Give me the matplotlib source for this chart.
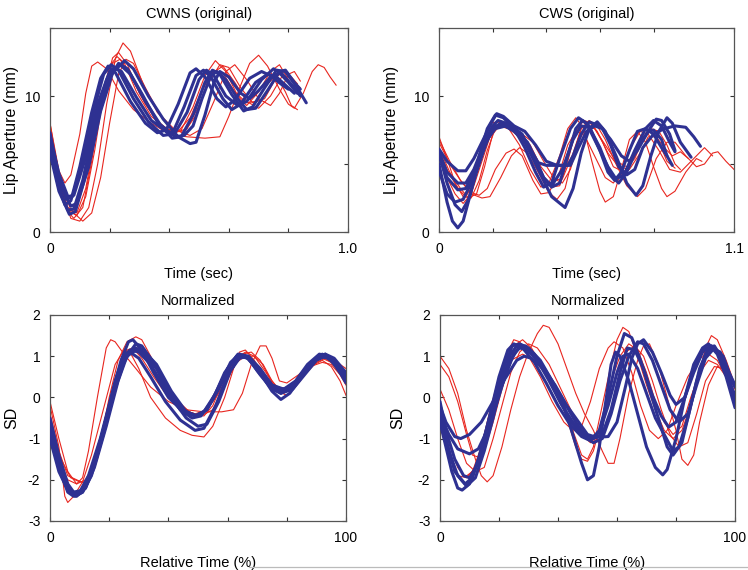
import matplotlib
matplotlib.use("Agg")
import matplotlib.pyplot as plt
import numpy as np
from matplotlib.lines import Line2D

plt.rcParams["font.family"] = ["Liberation Sans", "DejaVu Sans"]

RED = "#e8261f"
BLUE = "#2e3192"

# ---- CWNS original: (time s, lip aperture mm) ----
cwns_red = [
    [(0, 8.0), (0.03, 4.5), (0.05, 3.6), (0.07, 4.2), (0.10, 7.2), (0.12, 10.2), (0.14, 12.2), (0.16, 12.5),
     (0.19, 12.0), (0.23, 10.4), (0.28, 9.0), (0.34, 8.0), (0.40, 7.2), (0.46, 7.0), (0.52, 6.9), (0.57, 7.0),
     (0.60, 8.5), (0.64, 10.8), (0.67, 12.4), (0.70, 13.0), (0.73, 12.2), (0.77, 10.5), (0.80, 9.4),
     (0.82, 9.1), (0.85, 10.2), (0.88, 11.8), (0.90, 12.3), (0.92, 12.1), (0.94, 11.4), (0.96, 10.8)],
    [(0, 7.8), (0.03, 3.8), (0.06, 1.6), (0.09, 1.2), (0.12, 2.6), (0.15, 6.0), (0.18, 10.2), (0.21, 12.8),
     (0.23, 13.2), (0.26, 12.3), (0.30, 10.2), (0.35, 8.4), (0.40, 7.4), (0.44, 7.5), (0.48, 9.2), (0.52, 11.5),
     (0.555, 12.6), (0.59, 11.8), (0.63, 10.0), (0.66, 9.3), (0.70, 10.3), (0.74, 11.8), (0.77, 12.3),
     (0.80, 11.2), (0.82, 10.4)],
    [(0, 7.6), (0.03, 3.5), (0.07, 1.0), (0.10, 0.8), (0.13, 1.8), (0.16, 5.0), (0.19, 9.4), (0.22, 12.8),
     (0.245, 13.9), (0.27, 13.3), (0.31, 11.0), (0.36, 8.8), (0.41, 7.6), (0.45, 7.3), (0.49, 8.6), (0.53, 10.9),
     (0.57, 12.3), (0.60, 12.1), (0.64, 10.6), (0.68, 9.5), (0.72, 9.8), (0.76, 11.4), (0.79, 11.9),
     (0.82, 11.0), (0.84, 10.6)],
    [(0, 7.4), (0.03, 3.9), (0.06, 1.8), (0.09, 1.4), (0.12, 3.2), (0.15, 6.8), (0.18, 10.6), (0.21, 12.4),
     (0.235, 12.7), (0.27, 11.5), (0.32, 9.4), (0.37, 7.9), (0.42, 7.3), (0.46, 7.6), (0.50, 9.3), (0.54, 11.6),
     (0.58, 12.2), (0.62, 11.0), (0.66, 9.6), (0.70, 9.1), (0.74, 10.0), (0.78, 11.5), (0.81, 11.4),
     (0.83, 10.9)],
    [(0, 8.0), (0.03, 4.2), (0.07, 1.6), (0.11, 0.8), (0.14, 1.4), (0.17, 4.0), (0.20, 8.0), (0.23, 11.6),
     (0.255, 12.7), (0.28, 12.4), (0.32, 10.6), (0.37, 8.6), (0.42, 7.5), (0.47, 7.1), (0.51, 7.6), (0.55, 9.6),
     (0.59, 11.8), (0.62, 12.3), (0.66, 11.2), (0.70, 9.8), (0.74, 9.3), (0.77, 10.2), (0.80, 11.6),
     (0.82, 11.8), (0.84, 11.1)],
    [(0, 7.2), (0.03, 3.6), (0.06, 1.5), (0.08, 1.0), (0.11, 1.8), (0.14, 5.2), (0.17, 9.5), (0.20, 12.2),
     (0.225, 12.9), (0.25, 12.4), (0.29, 10.3), (0.34, 8.5), (0.39, 7.6), (0.43, 7.4), (0.47, 8.4), (0.51, 10.4),
     (0.55, 11.9), (0.58, 11.7), (0.62, 10.3), (0.66, 9.5), (0.69, 9.6), (0.73, 10.9), (0.76, 11.5),
     (0.79, 10.3), (0.81, 9.3), (0.83, 9.0)],
]
cwns_blue = [
    [(0, 6.9), (0.03, 3.4), (0.05, 2.0), (0.07, 2.3), (0.10, 4.8), (0.14, 8.8), (0.17, 11.3), (0.195, 12.2),
     (0.22, 11.7), (0.27, 9.6), (0.32, 8.0), (0.36, 7.3), (0.39, 7.5), (0.43, 9.4), (0.47, 11.7), (0.49, 12.0),
     (0.52, 11.4), (0.56, 9.8), (0.59, 9.2), (0.62, 9.7), (0.67, 11.3), (0.71, 11.8), (0.74, 11.5),
     (0.78, 10.8), (0.80, 10.5)],
    [(0, 7.3), (0.03, 4.0), (0.055, 2.4), (0.075, 2.6), (0.11, 5.2), (0.15, 9.2), (0.18, 11.6), (0.205, 12.3),
     (0.23, 11.9), (0.28, 9.8), (0.33, 8.1), (0.38, 7.1), (0.41, 7.2), (0.45, 9.2), (0.49, 11.5), (0.515, 11.9),
     (0.54, 11.4), (0.58, 9.8), (0.61, 9.0), (0.64, 9.4), (0.69, 11.0), (0.73, 11.6), (0.76, 11.4),
     (0.80, 10.6), (0.82, 10.2)],
    [(0, 6.2), (0.03, 3.2), (0.06, 1.6), (0.08, 1.7), (0.11, 3.8), (0.15, 7.9), (0.19, 11.2), (0.215, 12.1),
     (0.24, 11.8), (0.29, 9.9), (0.34, 8.2), (0.39, 7.4), (0.42, 7.3), (0.46, 8.8), (0.50, 11.2), (0.525, 11.9),
     (0.55, 11.5), (0.59, 10.0), (0.63, 9.3), (0.66, 9.6), (0.71, 11.2), (0.75, 12.0), (0.78, 11.6),
     (0.82, 10.6), (0.84, 10.0)],
    [(0, 5.8), (0.03, 3.0), (0.065, 1.3), (0.085, 1.5), (0.12, 4.2), (0.16, 8.3), (0.20, 11.3), (0.23, 12.4),
     (0.26, 12.0), (0.31, 10.1), (0.36, 8.1), (0.41, 6.9), (0.44, 7.0), (0.48, 8.6), (0.52, 11.0), (0.545, 11.9),
     (0.57, 11.6), (0.61, 10.1), (0.65, 8.9), (0.68, 9.2), (0.72, 10.6), (0.76, 11.9), (0.79, 11.8),
     (0.83, 10.6), (0.86, 9.5)],
    [(0, 6.5), (0.03, 3.7), (0.07, 1.9), (0.09, 2.1), (0.13, 4.8), (0.17, 8.9), (0.21, 11.7), (0.25, 12.6),
     (0.28, 12.0), (0.33, 10.0), (0.38, 8.3), (0.43, 7.0), (0.47, 6.5), (0.49, 6.6), (0.52, 8.6), (0.55, 11.0),
     (0.57, 11.8), (0.60, 11.4), (0.64, 10.2), (0.67, 9.8), (0.70, 10.4), (0.74, 11.4), (0.77, 11.7),
     (0.80, 11.0), (0.83, 10.2)],
    [(0, 7.0), (0.03, 4.3), (0.06, 2.6), (0.08, 2.7), (0.12, 5.5), (0.16, 9.4), (0.20, 11.8), (0.235, 12.3),
     (0.27, 11.6), (0.32, 9.6), (0.37, 7.9), (0.42, 7.0), (0.45, 7.1), (0.48, 7.8), (0.51, 9.8), (0.54, 11.5),
     (0.56, 11.8), (0.59, 11.2), (0.63, 9.8), (0.66, 9.0), (0.69, 9.1), (0.73, 10.4), (0.77, 11.8),
     (0.79, 11.9), (0.82, 11.0), (0.84, 10.5)],
]

# ---- CWS original ----
cws_red = [
    [(0, 6.8), (0.04, 5.2), (0.08, 3.8), (0.12, 2.8), (0.16, 2.5), (0.19, 2.6), (0.23, 4.0), (0.27, 5.6),
     (0.30, 6.2), (0.33, 5.8), (0.37, 4.4), (0.41, 2.9), (0.44, 2.4), (0.47, 3.2), (0.50, 5.6), (0.53, 7.6),
     (0.56, 8.2), (0.59, 7.8), (0.62, 6.8), (0.66, 5.0), (0.70, 3.4), (0.74, 2.6), (0.77, 3.2), (0.81, 5.4),
     (0.85, 6.6), (0.88, 6.6), (0.92, 5.6), (0.96, 4.8), (0.99, 5.0), (1.02, 5.8), (1.04, 5.9), (1.07, 5.2),
     (1.10, 4.6)],
    [(0, 6.2), (0.04, 4.4), (0.08, 3.2), (0.11, 2.5), (0.14, 2.8), (0.17, 4.8), (0.20, 7.2), (0.23, 7.9),
     (0.26, 7.6), (0.30, 6.4), (0.34, 4.6), (0.38, 3.3), (0.41, 3.6), (0.45, 5.6), (0.48, 7.6), (0.51, 8.4),
     (0.54, 7.6), (0.57, 5.2), (0.60, 3.0), (0.62, 2.2), (0.65, 2.6), (0.68, 4.6), (0.71, 6.8), (0.74, 7.4),
     (0.77, 6.6), (0.80, 4.8), (0.83, 3.2), (0.85, 2.6), (0.88, 3.0), (0.92, 4.4), (0.96, 5.4), (0.98, 5.2)],
    [(0, 6.0), (0.03, 4.6), (0.07, 3.2), (0.10, 2.6), (0.13, 3.6), (0.16, 6.2), (0.19, 8.0), (0.22, 8.1),
     (0.26, 7.6), (0.30, 7.0), (0.34, 6.0), (0.38, 4.2), (0.42, 3.3), (0.45, 3.4), (0.48, 5.2), (0.51, 7.4),
     (0.54, 8.2), (0.57, 8.0), (0.61, 6.6), (0.65, 4.8), (0.69, 4.4), (0.73, 5.6), (0.76, 7.0), (0.79, 7.4),
     (0.82, 6.6), (0.85, 5.2), (0.88, 4.7)],
    [(0, 5.6), (0.03, 4.0), (0.06, 2.8), (0.09, 2.1), (0.12, 2.8), (0.16, 5.2), (0.19, 7.0), (0.22, 7.8),
     (0.26, 7.6), (0.30, 7.2), (0.34, 6.4), (0.38, 4.8), (0.42, 3.8), (0.46, 3.9), (0.50, 5.8), (0.53, 7.6),
     (0.56, 8.1), (0.59, 7.4), (0.63, 5.8), (0.67, 4.8), (0.71, 4.6), (0.75, 5.8), (0.78, 7.0), (0.81, 7.0),
     (0.84, 6.2), (0.87, 5.6), (0.90, 5.9), (0.93, 5.4)],
    [(0, 6.6), (0.04, 5.0), (0.08, 3.8), (0.12, 2.9), (0.15, 2.7), (0.18, 3.2), (0.21, 4.6), (0.25, 5.8),
     (0.28, 6.1), (0.31, 5.6), (0.35, 3.8), (0.38, 2.8), (0.41, 2.9), (0.45, 4.4), (0.48, 6.4), (0.51, 7.4),
     (0.54, 7.2), (0.58, 5.6), (0.62, 4.0), (0.65, 3.6), (0.68, 4.4), (0.72, 6.4), (0.75, 7.4), (0.78, 7.2),
     (0.82, 6.0), (0.86, 4.6), (0.90, 4.4), (0.95, 5.4), (0.99, 6.2), (1.02, 5.6)],
    [(0, 7.0), (0.03, 5.4), (0.06, 3.6), (0.09, 2.6), (0.12, 2.5), (0.15, 3.8), (0.18, 6.0), (0.21, 7.6),
     (0.24, 8.0), (0.27, 7.8), (0.31, 7.2), (0.35, 6.6), (0.39, 5.2), (0.43, 3.9), (0.46, 3.6), (0.49, 4.6),
     (0.52, 6.6), (0.55, 7.8), (0.58, 7.6), (0.62, 6.4), (0.66, 5.2), (0.70, 4.8), (0.73, 5.4), (0.76, 6.8),
     (0.79, 7.6), (0.82, 7.4), (0.85, 6.4), (0.88, 5.0), (0.90, 4.6)],
]
cws_blue = [
    [(0, 5.0), (0.03, 2.2), (0.05, 0.8), (0.07, 0.3), (0.09, 0.8), (0.12, 3.0), (0.15, 5.6), (0.18, 7.6),
     (0.21, 8.6), (0.24, 8.4), (0.28, 7.6), (0.32, 6.2), (0.36, 4.4), (0.39, 3.3), (0.42, 3.6), (0.45, 5.4),
     (0.49, 7.6), (0.52, 8.4), (0.55, 8.0), (0.59, 6.4), (0.63, 4.8), (0.66, 3.9), (0.69, 4.2), (0.73, 6.0),
     (0.77, 7.6), (0.80, 8.2), (0.83, 7.8), (0.86, 6.6), (0.88, 5.9)],
    [(0, 5.8), (0.03, 3.6), (0.06, 2.0), (0.085, 1.5), (0.11, 2.4), (0.14, 4.4), (0.18, 6.8), (0.21, 7.8),
     (0.245, 7.8), (0.28, 7.4), (0.32, 6.6), (0.37, 4.6), (0.42, 2.6), (0.47, 1.8), (0.50, 3.2), (0.53, 5.8),
     (0.56, 7.6), (0.59, 8.1), (0.62, 7.4), (0.66, 5.6), (0.70, 3.6), (0.735, 2.7), (0.76, 3.4), (0.79, 5.6),
     (0.82, 7.4), (0.85, 8.4), (0.87, 8.0), (0.90, 6.6), (0.94, 5.5)],
    [(0, 4.5), (0.03, 2.8), (0.06, 2.2), (0.09, 2.4), (0.12, 3.6), (0.16, 5.8), (0.20, 7.6), (0.23, 8.0),
     (0.27, 7.8), (0.31, 7.2), (0.35, 5.6), (0.39, 4.0), (0.42, 3.4), (0.46, 4.6), (0.50, 6.8), (0.53, 7.8),
     (0.56, 7.7), (0.60, 6.2), (0.64, 4.2), (0.67, 3.6), (0.70, 4.4), (0.74, 6.2), (0.78, 7.4), (0.80, 7.5),
     (0.83, 6.8), (0.85, 5.6), (0.87, 4.9)],
    [(0, 5.6), (0.03, 4.0), (0.07, 3.1), (0.10, 3.2), (0.14, 4.8), (0.18, 6.8), (0.21, 7.6), (0.25, 7.8),
     (0.29, 7.4), (0.33, 6.4), (0.37, 5.1), (0.40, 4.9), (0.45, 4.9), (0.49, 4.9), (0.52, 6.2), (0.55, 7.4),
     (0.58, 7.8), (0.61, 7.6), (0.64, 6.4), (0.67, 4.8), (0.70, 4.2), (0.73, 4.6), (0.76, 6.2), (0.80, 7.2),
     (0.84, 7.6), (0.88, 7.8), (0.92, 7.7), (0.95, 7.0), (0.975, 6.3)],
    [(0, 5.9), (0.03, 4.4), (0.07, 3.6), (0.10, 3.6), (0.13, 4.6), (0.17, 6.6), (0.20, 7.8), (0.22, 8.2),
     (0.25, 8.0), (0.29, 7.4), (0.33, 6.6), (0.36, 5.4), (0.39, 4.0), (0.42, 3.3), (0.45, 3.6), (0.48, 5.6),
     (0.51, 7.6), (0.535, 8.2), (0.56, 7.8), (0.60, 6.0), (0.63, 4.4), (0.655, 3.8), (0.68, 4.4), (0.71, 6.0),
     (0.74, 7.4), (0.77, 7.6), (0.80, 7.2), (0.83, 6.2), (0.85, 5.6)],
    [(0, 6.1), (0.03, 5.2), (0.07, 4.5), (0.10, 4.5), (0.13, 5.4), (0.17, 7.0), (0.20, 8.2), (0.215, 8.7),
     (0.24, 8.5), (0.28, 7.8), (0.32, 7.4), (0.36, 6.4), (0.40, 5.2), (0.44, 4.9), (0.48, 4.9), (0.50, 5.6),
     (0.53, 7.2), (0.56, 8.1), (0.60, 7.8), (0.64, 6.8), (0.68, 5.6), (0.71, 5.2), (0.74, 6.0), (0.78, 7.4),
     (0.81, 8.3), (0.83, 8.2), (0.86, 7.2), (0.88, 6.0)],
]

# ---- normalized CWNS: (relative time %, SD) ----
norm_cwns_red = [
    [(0, -0.1), (3, -1.0), (6, -1.8), (9, -2.1), (11, -1.95), (13, -1.3), (16, 0.0), (19, 1.2), (20.5, 1.4),
     (22, 1.35), (25, 1.05), (29, 0.7), (34, 0.25), (40, -0.1), (46, -0.3), (52, -0.35), (58, -0.35),
     (62, -0.3), (65, 0.1), (68, 0.8), (71, 1.25), (73, 1.25), (75, 0.95), (77.5, 0.4), (80, 0.35),
     (84, 0.55), (88, 0.8), (92, 0.95), (95, 0.85), (98, 0.6), (100, 0.45)],
    [(0, -0.2), (3, -1.2), (5, -2.4), (6, -2.55), (8, -2.4), (11, -2.05), (14, -1.4), (18, -0.3), (22, 0.8),
     (25, 1.15), (27, 1.1), (30, 0.7), (34, 0.0), (39, -0.5), (44, -0.8), (48, -0.92), (52, -0.96),
     (55, -0.7), (59, 0.0), (62, 0.7), (64, 1.1), (66, 1.15), (69, 0.9), (73, 0.45), (77, 0.15), (80, 0.05),
     (84, 0.35), (88, 0.75), (92, 0.9), (95, 0.75), (98, 0.4), (100, 0.05)],
    [(0, -0.4), (3, -1.3), (6, -1.9), (9, -2.0), (12, -2.1), (14, -1.9), (17, -1.1), (20, 0.0), (23, 0.9),
     (26, 1.35), (29, 1.47), (31, 1.4), (34, 1.0), (38, 0.4), (43, -0.1), (48, -0.4), (52, -0.45),
     (55, -0.2), (59, 0.5), (63, 0.95), (66, 1.1), (69, 1.0), (73, 0.6), (76, 0.25), (79, 0.1), (83, 0.3),
     (88, 0.75), (92, 1.0), (95, 0.95), (98, 0.8), (100, 0.7)],
    [(0, -0.5), (3, -1.4), (7, -1.95), (10, -2.05), (13, -2.05), (16, -1.5), (19, -0.6), (22, 0.3),
     (25, 0.9), (28, 1.2), (30, 1.2), (33, 1.0), (37, 0.55), (42, 0.0), (47, -0.35), (51, -0.45),
     (55, -0.3), (59, 0.3), (63, 0.85), (66, 1.0), (69, 1.0), (72, 0.8), (75, 0.4), (78, 0.15), (82, 0.25),
     (86, 0.55), (90, 0.85), (93, 0.95), (96, 0.8), (100, 0.55)],
    [(0, -1.1), (3, -1.7), (6, -2.0), (9, -2.1), (12, -2.0), (15, -1.6), (18, -0.9), (21, 0.1), (24, 0.8),
     (26, 1.15), (28, 1.2), (31, 0.95), (35, 0.5), (40, 0.0), (45, -0.3), (49, -0.4), (53, -0.3), (57, 0.1),
     (61, 0.7), (65, 1.05), (68, 1.1), (71, 0.9), (74, 0.5), (77, 0.2), (80, 0.2), (84, 0.45), (88, 0.75),
     (92, 0.85), (95, 0.8), (98, 0.55), (100, 0.3)],
]
norm_cwns_blue = [
    [(0, -0.6), (3, -1.5), (6, -2.15), (8, -2.35), (10, -2.3), (13, -1.9), (17, -1.0), (21, 0.1), (24, 0.9),
     (26.5, 1.35), (28, 1.4), (31, 1.15), (35, 0.6), (40, 0.0), (45, -0.35), (49, -0.45), (52, -0.35),
     (56, 0.1), (60, 0.7), (63.5, 1.05), (67, 0.95), (71, 0.55), (75, 0.2), (78, 0.1), (82, 0.3),
     (86, 0.65), (90, 0.95), (92, 1.05), (95, 0.9), (98, 0.6), (100, 0.45)],
    [(0, -0.7), (3, -1.6), (6, -2.2), (8.5, -2.4), (11, -2.3), (14, -1.8), (18, -0.8), (22, 0.3), (25, 1.0),
     (27, 1.15), (30, 1.1), (34, 0.8), (39, 0.2), (44, -0.3), (48, -0.5), (51, -0.45), (55, -0.05),
     (59, 0.6), (63, 1.0), (66, 1.0), (70, 0.7), (74, 0.3), (78, 0.15), (82, 0.3), (87, 0.75), (91, 1.0),
     (94, 0.95), (97, 0.75), (100, 0.5)],
    [(0, -0.9), (3, -1.7), (6, -2.2), (9, -2.35), (12, -2.2), (15, -1.6), (19, -0.5), (23, 0.6), (26, 1.05),
     (29, 1.2), (32, 1.05), (36, 0.7), (41, 0.0), (46, -0.5), (50, -0.7), (53, -0.65), (57, -0.1),
     (61, 0.65), (64, 1.0), (67, 0.95), (71, 0.6), (75, 0.15), (78, -0.05), (81, 0.1), (86, 0.6),
     (90, 0.95), (93, 1.05), (96, 0.85), (100, 0.35)],
    [(0, -0.5), (3, -1.4), (6, -2.1), (8, -2.3), (11, -2.25), (14, -1.8), (18, -0.8), (22, 0.4), (25, 1.05),
     (27, 1.1), (30, 0.95), (34, 0.5), (39, -0.1), (44, -0.55), (49, -0.8), (52, -0.75), (56, -0.2),
     (60, 0.55), (64, 0.95), (67, 1.0), (71, 0.7), (75, 0.3), (79, 0.2), (83, 0.4), (87, 0.8), (91, 1.05),
     (94, 1.0), (97, 0.8), (100, 0.55)],
    [(0, -1.0), (3, -1.8), (6, -2.25), (9, -2.4), (12, -2.2), (15, -1.7), (19, -0.7), (23, 0.4), (26, 1.0),
     (29, 1.15), (32, 1.1), (36, 0.8), (41, 0.15), (46, -0.35), (50, -0.45), (53, -0.3), (57, 0.25),
     (61, 0.85), (64, 1.05), (67, 1.0), (71, 0.65), (75, 0.3), (78, 0.2), (82, 0.25), (86, 0.6), (90, 0.95),
     (93, 1.05), (96, 0.95), (100, 0.6)],
    [(0, -0.8), (3, -1.7), (6, -2.3), (8, -2.4), (11, -2.3), (14, -1.9), (18, -0.9), (22, 0.2), (25, 0.85),
     (27, 1.1), (29, 1.3), (31, 1.25), (35, 0.85), (40, 0.2), (45, -0.3), (49, -0.45), (53, -0.3), (57, 0.2),
     (61, 0.8), (64, 1.0), (67, 0.95), (70, 0.65), (74, 0.3), (78, 0.1), (82, 0.2), (86, 0.55), (90, 0.9),
     (93, 1.0), (96, 0.85), (100, 0.4)],
]

# ---- normalized CWS ----
norm_cws_red = [
    [(0, 1.0), (3, 0.7), (6, 0.1), (9, -0.8), (12, -1.5), (14, -1.9), (16, -2.05), (18, -1.9), (21, -1.2),
     (24, -0.3), (27, 0.5), (30, 1.1), (33, 1.55), (35, 1.75), (37, 1.7), (40, 1.3), (43, 0.7), (46, 0.1),
     (49, -0.4), (52, -0.8), (55, -1.3), (57, -1.6), (59, -1.6), (61, -1.0), (64, 0.1), (67, 0.9),
     (69, 1.25), (71, 1.3), (74, 0.8), (77, 0.0), (80, -0.8), (82, -1.5), (84, -1.65), (86, -1.4),
     (88, -0.6), (91, 0.3), (94, 0.75), (97, 0.65), (100, 0.2)],
    [(0, 0.8), (3, 0.5), (6, -0.1), (9, -0.9), (11, -1.4), (13, -1.45), (15, -1.3), (18, -0.6), (21, 0.2),
     (24, 0.9), (26, 1.3), (28, 1.4), (31, 1.2), (35, 0.7), (39, 0.2), (43, -0.4), (46, -1.0), (48, -1.4),
     (50, -1.5), (52, -1.2), (55, -0.2), (58, 0.8), (60, 1.4), (62, 1.7), (64, 1.6), (67, 1.0), (70, 0.3),
     (73, -0.3), (76, -0.8), (79, -1.0), (82, -0.8), (85, -0.2), (88, 0.6), (90, 1.2), (92, 1.5),
     (94, 1.4), (97, 0.9), (100, 0.3)],
    [(0, -0.4), (3, -1.1), (6, -1.7), (8.5, -1.93), (11, -1.8), (14, -1.2), (17, -0.3), (20, 0.5),
     (23, 1.1), (25, 1.4), (27, 1.35), (30, 1.0), (34, 0.5), (38, -0.1), (42, -0.6), (45, -0.8), (48, -0.7),
     (51, -0.1), (54, 0.7), (57, 1.2), (59, 1.35), (62, 1.2), (65, 0.6), (68, -0.2), (71, -0.8),
     (74, -1.0), (77, -0.8), (80, -0.2), (84, 0.5), (88, 0.95), (91, 1.05), (94, 0.9), (97, 0.5),
     (100, 0.0)],
    [(0, -0.7), (3, -1.4), (6, -1.9), (9, -1.95), (12, -1.7), (15, -1.1), (18, -0.3), (21, 0.4), (24, 0.9),
     (28, 1.05), (32, 0.9), (36, 0.55), (40, 0.1), (43, -0.5), (46, -1.2), (48, -1.5), (50, -1.55),
     (52, -1.3), (55, -0.5), (58, 0.4), (61, 1.0), (64, 1.3), (67, 1.15), (70, 0.6), (73, -0.1),
     (76, -0.6), (79, -0.9), (82, -0.7), (85, 0.0), (88, 0.6), (91, 0.9), (94, 0.8), (97, 0.5),
     (100, 0.1)],
    [(0, 0.2), (3, -0.3), (6, -1.0), (9, -1.6), (12, -1.8), (15, -1.7), (18, -1.0), (21, -0.2), (24, 0.6),
     (27, 1.1), (30, 1.3), (33, 1.2), (37, 0.8), (41, 0.2), (45, -0.4), (48, -0.9), (51, -1.1), (54, -0.9),
     (57, -0.2), (60, 0.6), (63, 1.1), (66, 1.25), (69, 1.0), (72, 0.4), (75, -0.3), (78, -0.9),
     (81, -1.2), (84, -1.1), (87, -0.4), (90, 0.4), (93, 0.75), (96, 0.7), (100, 0.3)],
]
norm_cws_blue = [
    [(0, -0.2), (2, -0.6), (5, -0.95), (7, -1.0), (10, -0.9), (14, -0.6), (18, -0.1), (22, 0.45), (26, 0.9),
     (28.5, 1.0), (31, 0.95), (35, 0.7), (39, 0.3), (43, -0.2), (47, -0.6), (50, -0.9), (53, -0.97),
     (57, -0.95), (60, -0.6), (63, 0.3), (65, 0.95), (67, 1.3), (69, 1.4), (72, 1.1), (75, 0.6), (78, 0.05),
     (80, -0.17), (83, 0.0), (86, 0.6), (89, 1.1), (92, 1.25), (95, 1.0), (98, 0.4), (100, 0.05)],
    [(0, -0.4), (3, -0.9), (6, -1.25), (10, -1.37), (13, -1.25), (16, -0.8), (19, -0.2), (22, 0.5),
     (25, 1.05), (27, 1.2), (30, 1.15), (34, 0.85), (38, 0.4), (42, -0.1), (46, -0.6), (49, -0.9),
     (52, -1.0), (55, -0.9), (58, -0.3), (61, 0.6), (63.5, 1.2), (66, 1.15), (69, 0.7), (72, 0.05),
     (75, -0.45), (77.5, -0.72), (80, -0.6), (83, 0.0), (86, 0.7), (89, 1.15), (92, 1.25), (95, 1.0),
     (98, 0.4), (100, -0.1)],
    [(0, -0.6), (2, -1.2), (4, -1.8), (6, -2.2), (7.5, -2.25), (10, -2.1), (13, -1.5), (16, -0.7),
     (19, 0.1), (22, 0.8), (24.5, 1.25), (27, 1.3), (30, 1.2), (34, 0.9), (38, 0.4), (42, -0.2), (45, -0.9),
     (48, -1.6), (50, -2.0), (52, -1.9), (54, -1.2), (56, -0.2), (58, 0.8), (59.5, 1.1), (61, 1.0),
     (64, 0.4), (67, -0.4), (70, -1.2), (73, -1.7), (75.5, -1.88), (77, -1.75), (80, -1.0), (83, 0.0),
     (86, 0.8), (89, 1.2), (91, 1.3), (94, 1.05), (97, 0.5), (100, -0.25)],
    [(0, -0.3), (2, -1.0), (5, -1.8), (8.5, -2.1), (11, -1.95), (14, -1.3), (17, -0.4), (20, 0.5),
     (23, 1.15), (25, 1.3), (28, 1.2), (32, 0.85), (36, 0.35), (40, -0.2), (44, -0.65), (48, -0.95),
     (51, -1.05), (54, -0.8), (57, 0.0), (60, 1.0), (62.5, 1.55), (65, 1.45), (68, 0.9), (71, 0.2),
     (74, -0.5), (77, -1.2), (79, -1.4), (82, -1.1), (85, -0.2), (88, 0.7), (91, 1.2), (93, 1.25),
     (96, 0.9), (99, 0.2), (100, -0.05)],
    [(0, -0.1), (2, -0.8), (5, -1.5), (8, -1.9), (10, -1.95), (13, -1.6), (16, -0.9), (20, 0.1), (24, 0.9),
     (27, 1.25), (29, 1.25), (32, 1.05), (36, 0.6), (40, 0.0), (44, -0.55), (48, -0.9), (52, -1.1),
     (55, -1.0), (58, -0.4), (61, 0.4), (64, 1.0), (67, 1.35), (69, 1.3), (72, 0.9), (75, 0.3), (78, -0.3),
     (81, -0.6), (84, -0.4), (87, 0.3), (90, 0.95), (93, 1.2), (96, 1.0), (99, 0.4), (100, 0.25)],
    [(0, -0.5), (3, -1.3), (6, -1.9), (9, -2.15), (12, -1.95), (15, -1.3), (18, -0.5), (21, 0.4), (24, 1.05),
     (26, 1.25), (29, 1.2), (33, 0.9), (37, 0.4), (41, -0.15), (45, -0.6), (48, -0.85), (51, -1.0),
     (54, -0.85), (57, -0.2), (60, 0.6), (62, 1.0), (64, 1.05), (67, 0.7), (70, 0.1), (73, -0.5), (76, -0.9),
     (79, -1.3), (81, -1.2), (84, -0.5), (87, 0.4), (90, 1.05), (92, 1.2), (95, 1.1), (98, 0.6), (100, 0.3)],
]

TICK_FS = 10
LABEL_FS = 10.5
YLABEL_FS = 11.5


def style_axes(ax, xlim, ylim, xticks, xticklabels, yticks, yticklabels):
    ax.set_xlim(*xlim)
    ax.set_ylim(*ylim)
    ax.set_xticks(xticks)
    ax.set_xticklabels(xticklabels)
    ax.set_yticks(yticks)
    ax.set_yticklabels(yticklabels)
    ax.tick_params(direction="in", length=3, width=0.8, top=True, right=True,
                   labelsize=TICK_FS, pad=7, color="#333333")
    for sp in ax.spines.values():
        sp.set_color("#555555")
        sp.set_linewidth(0.9)


def draw_curves(ax, red, blue):
    for c in red:
        x, y = np.array(c).T
        ax.plot(x, y, color=RED, lw=0.8, zorder=2)
    for c in blue:
        x, y = np.array(c).T
        ax.plot(x, y, color=BLUE, lw=2.2, zorder=3, solid_capstyle="round")


fig = plt.figure(figsize=(7.48, 5.70), dpi=100)
W, H = 748, 570


def add_ax(left, top, right, bottom):
    return fig.add_axes([left / W, (H - bottom) / H, (right - left) / W, (bottom - top) / H])


ax1 = add_ax(50, 28, 348, 232)
ax2 = add_ax(439, 28, 734, 232)
ax3 = add_ax(50, 315, 346, 521)
ax4 = add_ax(440, 315, 735, 521)

draw_curves(ax1, cwns_red, cwns_blue)
style_axes(ax1, (0, 1.0), (0, 15), [0, 0.2, 0.4, 0.6, 0.8, 1.0], ["0", "", "", "", "", "1.0"],
           [0, 5, 10, 15], ["0", "", "10", ""])
ax1.set_title("CWNS (original)", fontsize=LABEL_FS, pad=7)
ax1.set_xlabel("Time (sec)", fontsize=LABEL_FS, labelpad=8)
ax1.set_ylabel("Lip Aperture (mm)", fontsize=YLABEL_FS, labelpad=4)

draw_curves(ax2, cws_red, cws_blue)
style_axes(ax2, (0, 1.1), (0, 15), [0, 0.2, 0.4, 0.6, 0.8, 1.1], ["0", "", "", "", "", "1.1"],
           [0, 5, 10, 15], ["0", "", "10", ""])
ax2.set_title("CWS (original)", fontsize=LABEL_FS, pad=7)
ax2.set_xlabel("Time (sec)", fontsize=LABEL_FS, labelpad=8)
ax2.set_ylabel("Lip Aperture (mm)", fontsize=YLABEL_FS, labelpad=11)

for ax, red, blue, lp in [(ax3, norm_cwns_red, norm_cwns_blue, 6), (ax4, norm_cws_red, norm_cws_blue, 9)]:
    draw_curves(ax, red, blue)
    style_axes(ax, (0, 100), (-3, 2), [0, 20, 40, 60, 80, 100], ["0", "", "", "", "", "100"],
               [-3, -2, -1, 0, 1, 2], ["-3", "-2", "-1", "0", "1", "2"])
    ax.set_title("Normalized", fontsize=LABEL_FS, pad=7)
    ax.set_xlabel("Relative Time (%)", fontsize=LABEL_FS, labelpad=8)
    ax.set_ylabel("SD", fontsize=YLABEL_FS, labelpad=lp)

# faint page rule along the bottom edge of the source scan
fig.add_artist(Line2D([249 / W, 1.0], [3 / H, 3 / H], color="#bbbbbb", lw=0.9))

fig.savefig("out.png", dpi=100, facecolor="white")
